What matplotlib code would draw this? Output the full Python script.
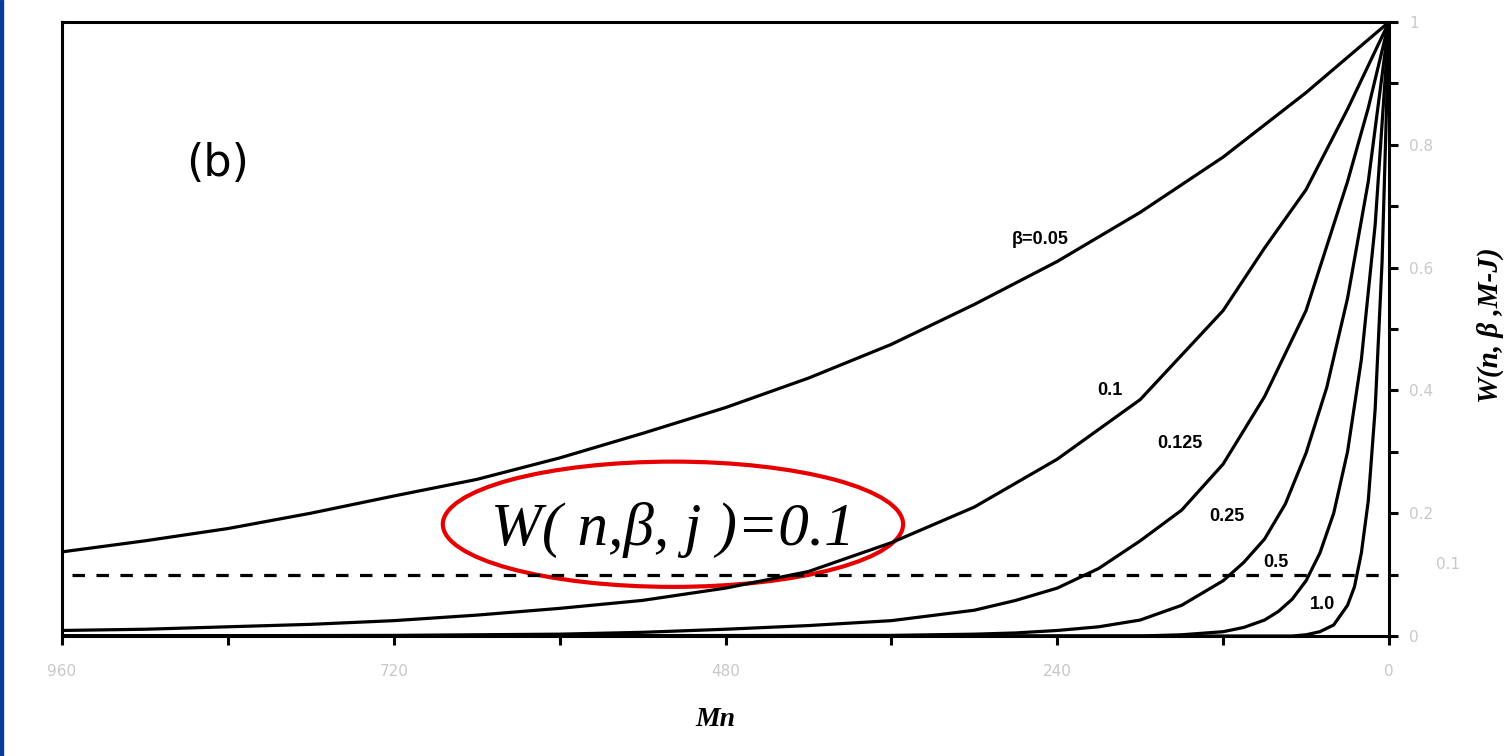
import matplotlib
matplotlib.use("Agg")
import matplotlib.pyplot as plt
from matplotlib.patches import Ellipse, Rectangle

# values: (M-n, W) per beta curve
mn_005 = [960, 900, 840, 780, 720, 660, 600, 540, 480, 420, 360, 300, 240, 180, 120, 60, 0]
w_005 = [0.137, 0.155, 0.175, 0.2, 0.228, 0.255, 0.29, 0.33, 0.372, 0.42, 0.475, 0.54,
         0.61, 0.69, 0.78, 0.885, 1.0]

mn_01 = [960, 900, 840, 780, 720, 660, 600, 540, 480, 420, 360, 300, 240, 180, 120, 90, 60, 30, 0]
w_01 = [0.009, 0.011, 0.015, 0.019, 0.025, 0.034, 0.045, 0.058, 0.078, 0.105, 0.152, 0.21,
        0.288, 0.385, 0.53, 0.632, 0.727, 0.858, 1.0]

mn_0125 = [960, 720, 600, 540, 480, 420, 360, 300, 270, 240, 210, 180, 150, 120, 90, 60, 30, 15, 0]
w_0125 = [0.0, 0.001, 0.003, 0.006, 0.011, 0.017, 0.025, 0.042, 0.058, 0.078, 0.11, 0.155,
          0.205, 0.28, 0.39, 0.53, 0.74, 0.86, 1.0]

mn_025 = [960, 360, 300, 270, 240, 210, 180, 150, 120, 105, 90, 75, 60, 45, 30, 15, 0]
w_025 = [0.0, 0.001, 0.003, 0.005, 0.009, 0.015, 0.026, 0.05, 0.09, 0.12, 0.158, 0.215,
         0.298, 0.405, 0.55, 0.74, 1.0]

mn_05 = [960, 180, 150, 120, 105, 90, 80, 70, 60, 50, 40, 30, 20, 10, 0]
w_05 = [0.0, 0.0, 0.002, 0.007, 0.014, 0.026, 0.04, 0.06, 0.09, 0.135, 0.2, 0.3, 0.45, 0.67, 1.0]

mn_10 = [960, 70, 60, 50, 40, 30, 25, 20, 15, 10, 5, 0]
w_10 = [0.0, 0.0, 0.002, 0.007, 0.018, 0.05, 0.08, 0.135, 0.22, 0.37, 0.61, 1.0]

threshold = 0.1

curve_labels = ["\u03b2=0.05", "0.1", "0.125", "0.25", "0.5", "1.0"]
label_mn = [252, 202, 151, 117, 82, 48]
label_w = [0.645, 0.40, 0.314, 0.194, 0.12, 0.052]

x_ticks = [960, 840, 720, 600, 480, 360, 240, 120, 0]
x_ticklabels = ["960", "", "720", "", "480", "", "240", "", "0"]
y_ticks = [0, 0.1, 0.2, 0.3, 0.4, 0.5, 0.6, 0.7, 0.8, 0.9, 1.0]
y_ticklabels = ["0", "", "0.2", "", "0.4", "", "0.6", "", "0.8", "", "1"]

fig = plt.figure(figsize=(15.06, 7.56), dpi=100)
ax = fig.add_axes([62 / 1506, 1 - 636 / 756, 1327 / 1506, 614 / 756])

lw = 2.3
for mn, w in [(mn_005, w_005), (mn_01, w_01), (mn_0125, w_0125),
              (mn_025, w_025), (mn_05, w_05), (mn_10, w_10)]:
    ax.plot(mn, w, color="black", lw=lw)

ax.hlines(threshold, 953, 0, colors="black", lw=2.3, linestyles=(0, (3.9, 3.6)))

for txt, x, y in zip(curve_labels, label_mn, label_w):
    ax.text(x, y, txt, ha="center", va="center", fontsize=13,
            fontweight="bold", family="Liberation Sans")

ax.add_patch(Ellipse((518, 0.182), 333, 0.204, fill=False, edgecolor="#e80000", lw=3.0))
ax.text(518, 0.173, "W( n,\u03b2, j )=0.1", ha="center", va="center",
        fontsize=44, style="italic", family="Liberation Serif")

ax.text(0.1176, 0.77, "(b)", transform=ax.transAxes, ha="center", va="center",
        fontsize=32, family="DejaVu Sans")

ax.set_xlim(960, 0)
ax.set_ylim(0, 1)
ax.set_xticks(x_ticks)
ax.set_xticklabels(x_ticklabels)
ax.set_yticks(y_ticks)
ax.set_yticklabels(y_ticklabels)
ax.yaxis.tick_right()
ax.tick_params(axis="both", direction="out", length=6.5, width=2.2,
               labelsize=11, labelcolor="#c8c8c8")
ax.tick_params(axis="x", pad=14)
ax.tick_params(axis="y", pad=8)
for s in ax.spines.values():
    s.set_linewidth(2.2)

# extra 0.1 label on the right, a little off the tick
ax.text(1.0445, 0.116, "0.1", transform=ax.get_yaxis_transform(), ha="center",
        va="center", fontsize=11, color="#c8c8c8")

ax.set_xlabel("Mn", fontsize=20, style="italic", fontweight="bold", family="Liberation Serif")
ax.xaxis.set_label_coords(0.492, -0.115)

fig.text(1490 / 1506, 1 - 325 / 756, "W(n, \u03b2 ,M-J)", rotation=90, ha="center",
         va="center", fontsize=21, style="italic", fontweight="bold", family="Liberation Serif")

fig.patches.append(Rectangle((0, 0), 3 / 1506, 1, transform=fig.transFigure,
                             color="#0a3a9a", zorder=10))

fig.savefig("out.png", dpi=100)
